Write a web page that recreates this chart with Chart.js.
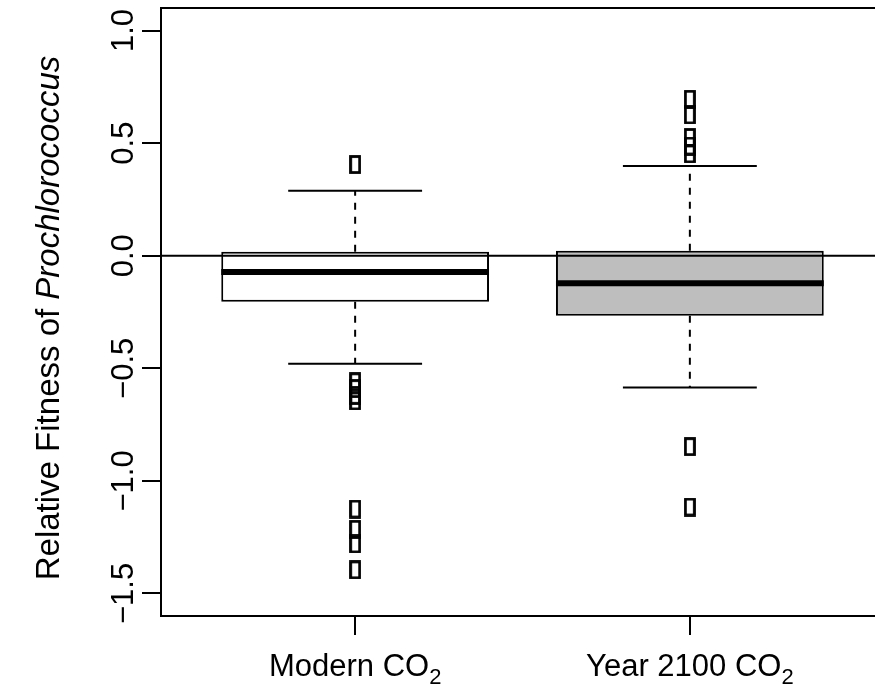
<!DOCTYPE html>
<html>
<head>
<meta charset="utf-8">
<script src="https://cdn.jsdelivr.net/npm/chart.js@4/dist/chart.umd.min.js"></script>
<style>
  html, body { margin: 0; padding: 0; background: #fff; overflow: hidden; }
  #wrap { width: 875px; height: 687px; overflow: hidden; }
</style>
</head>
<body>
<div id="wrap"><canvas id="fitness" width="900" height="687"></canvas></div>
<script>
// groups on the x axis (the "2" is drawn as a subscript)
var groupNames = ["Modern CO", "Year 2100 CO"];
var groupSub = ["2", "2"];
var groupPos = [1, 2];

// box statistics
var lowerWhisker = [-0.48, -0.585];
var q1 = [-0.205, -0.267];
var median = [-0.072, -0.122];
var q3 = [0.018, 0.022];
var upperWhisker = [0.289, 0.398];

// outlying points
var outliersModern = [0.405, -0.56, -0.59, -0.62, -0.645, -1.125, -1.215, -1.28, -1.395];
var outliers2100 = [0.695, 0.625, 0.525, 0.487, 0.452, -0.848, -1.116];

// axis ticks
var yTicks = [-1.5, -1.0, -0.5, 0.0, 0.5, 1.0];

var FONT = '"Liberation Sans", Arial, sans-serif';

// open rectangle used as the outlier symbol
var marker = document.createElement("canvas");
marker.width = 12;
marker.height = 19;
(function () {
  var c = marker.getContext("2d");
  c.strokeStyle = "#000";
  c.lineWidth = 2.8;
  c.strokeRect(1.5, 1.5, 9, 16);
})();

var outlierPoints = [];
outliersModern.forEach(function (v) { outlierPoints.push({ x: groupPos[0], y: v }); });
outliers2100.forEach(function (v) { outlierPoints.push({ x: groupPos[1], y: v }); });

var boxPlotExtras = {
  id: "boxPlotExtras",
  afterDatasetsDraw: function (chart) {
    var ctx = chart.ctx;
    var x = chart.scales.x, y = chart.scales.y;
    var area = chart.chartArea;
    var unit = x.getPixelForValue(2) - x.getPixelForValue(1);
    var halfBox = 0.4 * unit;
    var halfStaple = 0.2 * unit;
    ctx.save();
    ctx.strokeStyle = "#000";
    ctx.lineCap = "butt";
    for (var i = 0; i < groupPos.length; i++) {
      var cx = x.getPixelForValue(groupPos[i]);
      // dashed whiskers
      ctx.lineWidth = 2;
      ctx.setLineDash([7, 7]);
      ctx.beginPath();
      ctx.moveTo(cx, y.getPixelForValue(q3[i]));
      ctx.lineTo(cx, y.getPixelForValue(upperWhisker[i]));
      ctx.moveTo(cx, y.getPixelForValue(q1[i]));
      ctx.lineTo(cx, y.getPixelForValue(lowerWhisker[i]));
      ctx.stroke();
      ctx.setLineDash([]);
      // staples
      ctx.beginPath();
      var yu = y.getPixelForValue(upperWhisker[i]);
      var yl = y.getPixelForValue(lowerWhisker[i]);
      ctx.moveTo(cx - halfStaple, yu); ctx.lineTo(cx + halfStaple, yu);
      ctx.moveTo(cx - halfStaple, yl); ctx.lineTo(cx + halfStaple, yl);
      ctx.stroke();
      // median
      ctx.lineWidth = 6;
      var ym = y.getPixelForValue(median[i]);
      ctx.beginPath();
      ctx.moveTo(cx - halfBox, ym); ctx.lineTo(cx + halfBox, ym);
      ctx.stroke();
    }
    // horizontal reference line at zero
    ctx.lineWidth = 2;
    var y0 = y.getPixelForValue(0);
    ctx.beginPath();
    ctx.moveTo(area.left, y0); ctx.lineTo(area.right, y0);
    ctx.stroke();
    // plot frame
    ctx.strokeRect(area.left, area.top, area.right - area.left, area.bottom - area.top);
    ctx.restore();
  },
  afterDraw: function (chart) {
    var ctx = chart.ctx;
    var x = chart.scales.x, y = chart.scales.y;
    var area = chart.chartArea;
    ctx.save();
    ctx.fillStyle = "#000";
    ctx.textBaseline = "alphabetic";

    // y tick labels, rotated
    ctx.font = "31px " + FONT;
    ctx.textAlign = "center";
    yTicks.forEach(function (v) {
      var py = y.getPixelForValue(v);
      ctx.save();
      ctx.translate(133, py);
      ctx.rotate(-Math.PI / 2);
      ctx.fillText(v.toFixed(1).replace("-", "\u2212"), 0, 0);
      ctx.restore();
    });

    // y axis title with italic genus name
    var t1 = "Relative Fitness of ";
    var t2 = "Prochlorococcus";
    ctx.font = "33px " + FONT;
    var w1 = ctx.measureText(t1).width;
    ctx.font = "italic 33px " + FONT;
    var w2 = ctx.measureText(t2).width;
    ctx.save();
    ctx.translate(59, (area.top + area.bottom) / 2 + 6);
    ctx.rotate(-Math.PI / 2);
    ctx.textAlign = "left";
    ctx.font = "33px " + FONT;
    ctx.fillText(t1, -(w1 + w2) / 2, 0);
    ctx.font = "italic 33px " + FONT;
    ctx.fillText(t2, -(w1 + w2) / 2 + w1, 0);
    ctx.restore();

    // x labels with subscript
    ctx.textAlign = "left";
    for (var i = 0; i < groupPos.length; i++) {
      var cx = x.getPixelForValue(groupPos[i]);
      ctx.font = "31px " + FONT;
      var wa = ctx.measureText(groupNames[i]).width;
      ctx.font = "22px " + FONT;
      var wb = ctx.measureText(groupSub[i]).width;
      var sx = cx - (wa + wb) / 2;
      ctx.font = "31px " + FONT;
      ctx.fillText(groupNames[i], sx, 676);
      ctx.font = "22px " + FONT;
      ctx.fillText(groupSub[i], sx + wa, 684);
    }
    ctx.restore();
  }
};

var ctx = document.getElementById("fitness").getContext("2d");
var chart = new Chart(ctx, {
  type: "bar",
  data: {
    datasets: [
      {
        label: "IQR",
        data: groupPos.map(function (p, i) { return { x: p, y: [q1[i], q3[i]] }; }),
        backgroundColor: ["#ffffff", "#bebebe"],
        borderColor: "#000000",
        borderWidth: 2,
        borderSkipped: false,
        categoryPercentage: 1,
        barPercentage: 0.8
      },
      {
        type: "scatter",
        label: "Outliers",
        data: outlierPoints,
        pointStyle: marker,
        pointRadius: 6
      }
    ]
  },
  plugins: [boxPlotExtras],
  options: {
    responsive: false,
    animation: false,
    layout: { padding: { left: 0, right: 16, top: 8, bottom: 0 } },
    plugins: { legend: { display: false }, tooltip: { enabled: false } },
    scales: {
      x: {
        type: "linear",
        min: 0.42,
        max: 2.58,
        offset: false,
        afterBuildTicks: function (s) { s.ticks = groupPos.map(function (v) { return { value: v }; }); },
        afterFit: function (s) { s.height = 71; },
        ticks: { display: false },
        border: { display: false },
        grid: { display: true, offset: false, drawOnChartArea: false, drawTicks: true, tickLength: 19, color: "#000", lineWidth: 2 }
      },
      y: {
        type: "linear",
        min: -1.6,
        max: 1.1,
        afterBuildTicks: function (s) { s.ticks = yTicks.map(function (v) { return { value: v }; }); },
        afterFit: function (s) { s.width = 161; },
        ticks: { display: false },
        border: { display: false },
        grid: { display: true, drawOnChartArea: false, drawTicks: true, tickLength: 19, color: "#000", lineWidth: 2 }
      }
    }
  }
});
</script>
</body>
</html>
